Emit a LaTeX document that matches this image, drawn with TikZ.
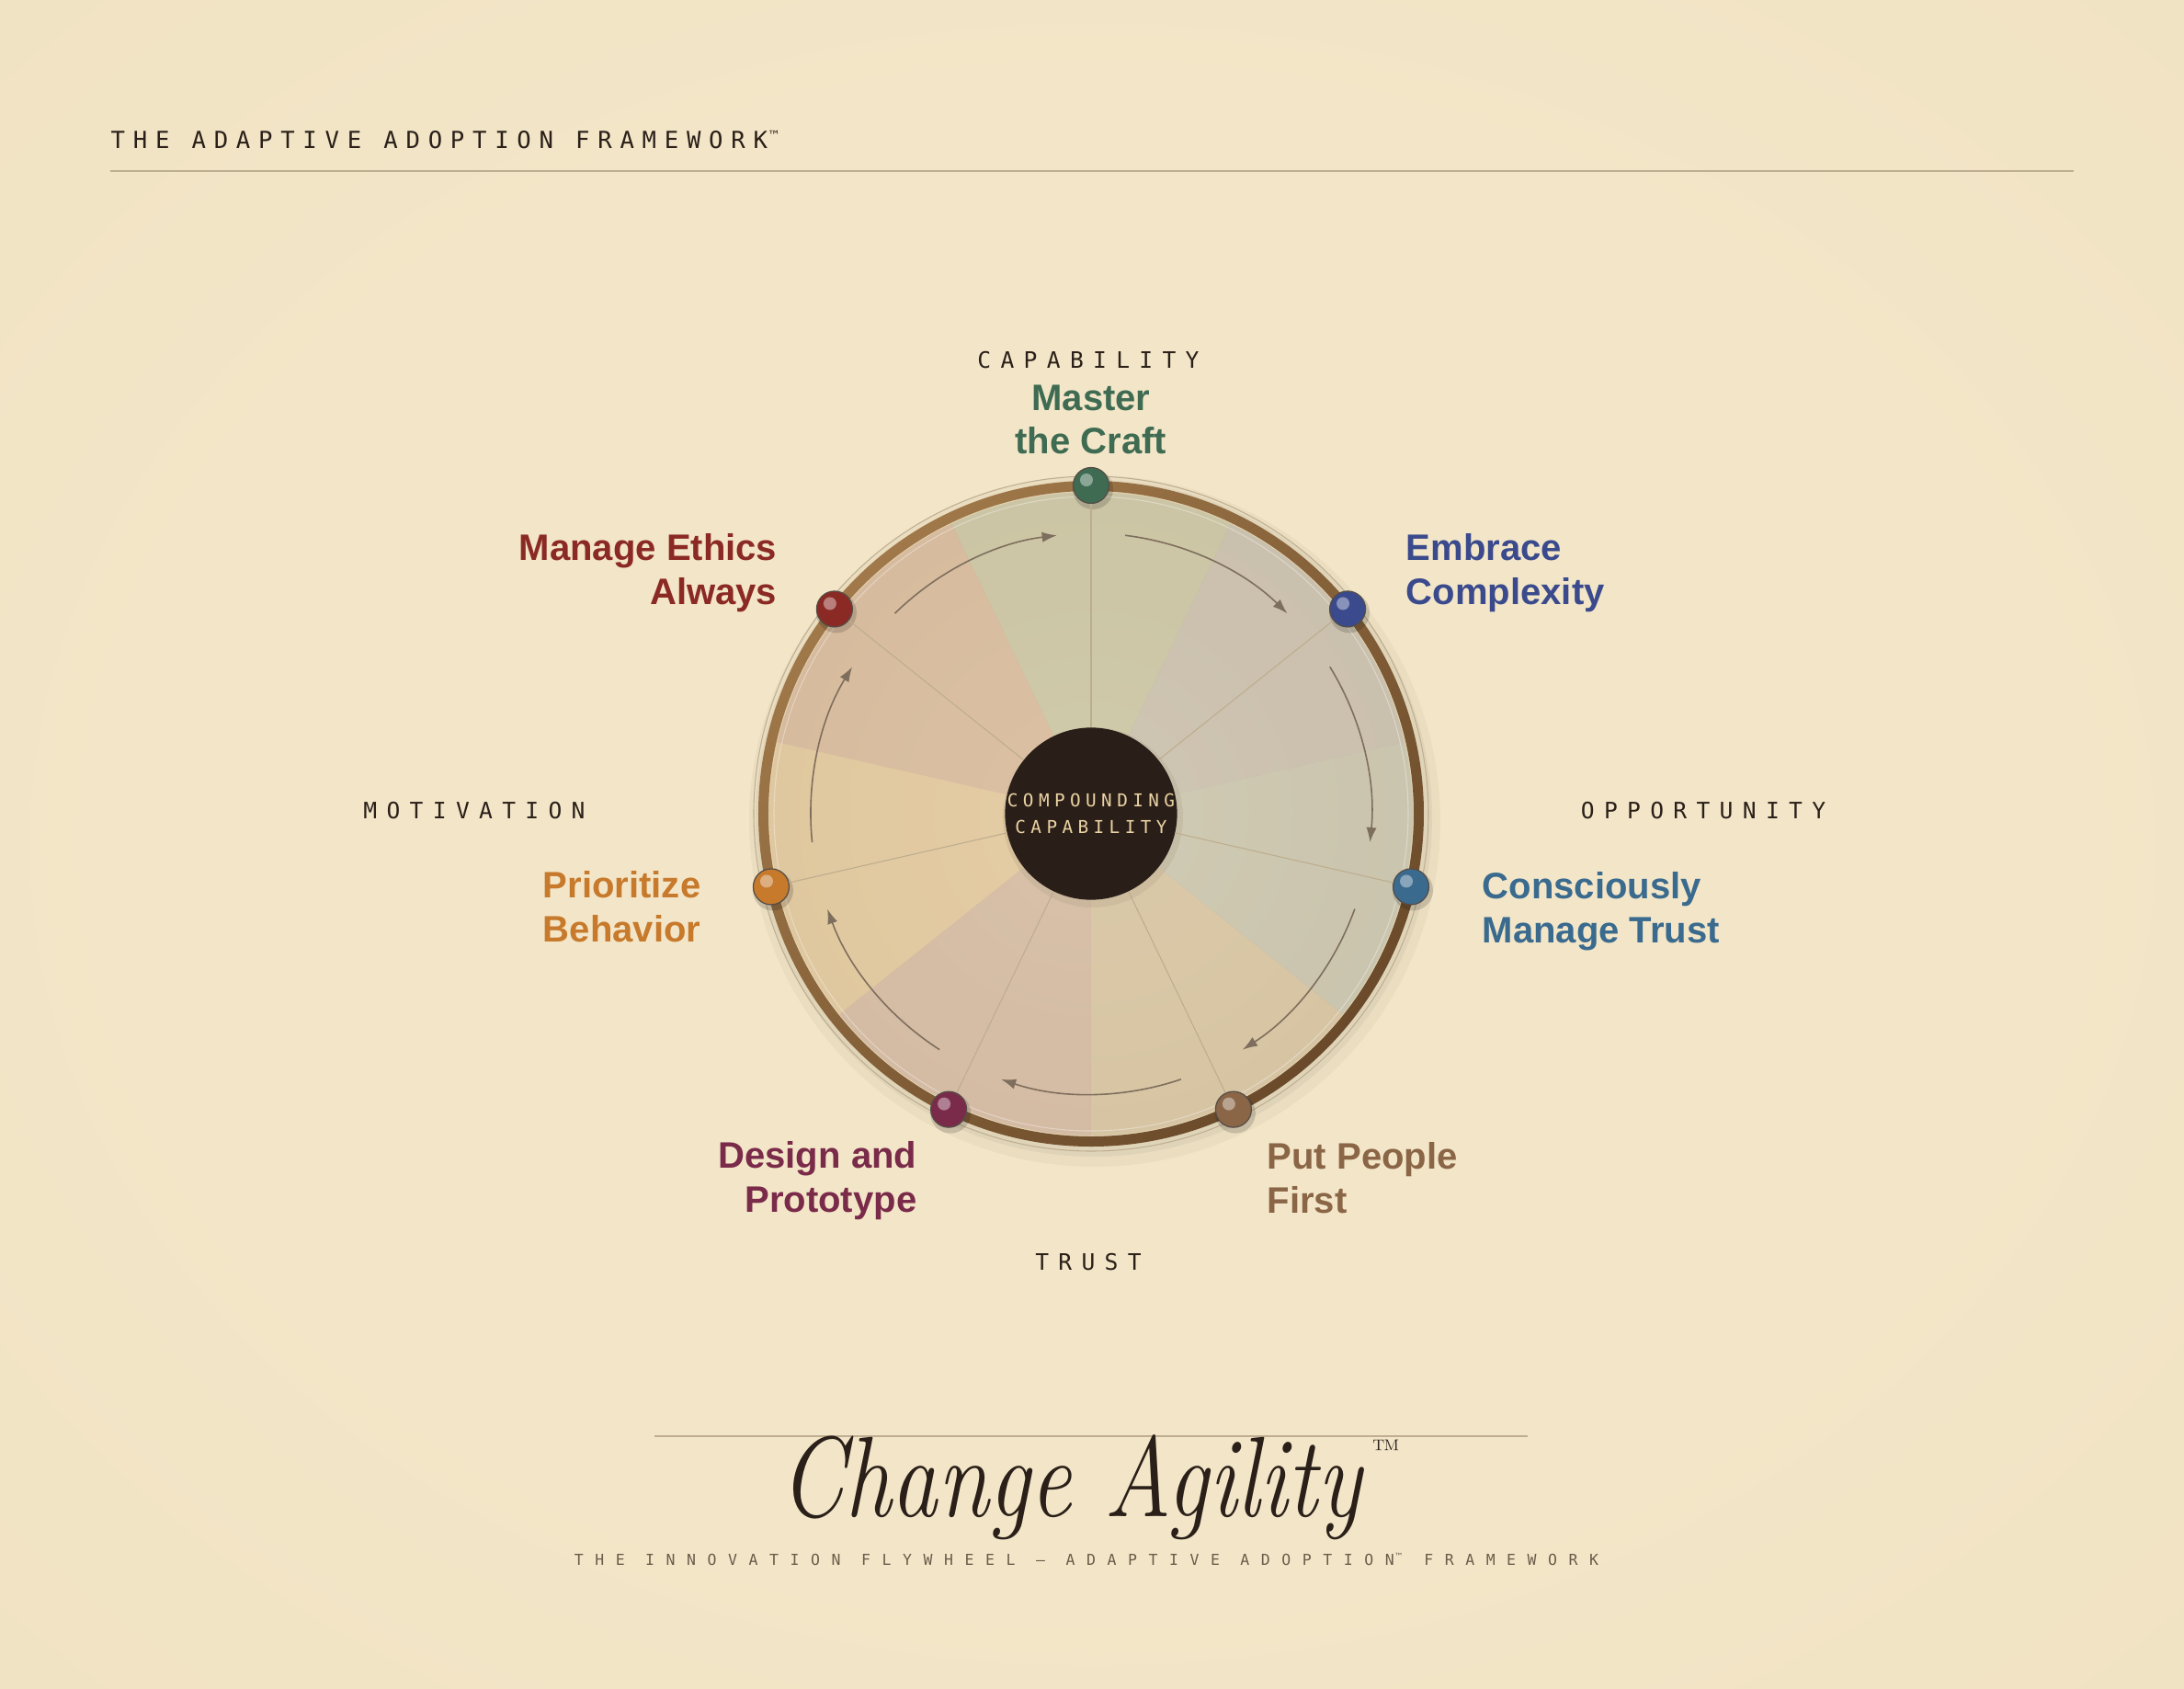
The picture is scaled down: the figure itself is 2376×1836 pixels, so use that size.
\documentclass[tikz,border=0pt]{standalone}
\usepackage{fontspec}
\usepackage{graphicx}
\setsansfont{Liberation Sans}
\newfontfamily\monoaxis[LetterSpace=42]{DejaVu Sans Mono}
\newfontfamily\monotitle[LetterSpace=34]{DejaVu Sans Mono}
\newfontfamily\monohub[LetterSpace=28]{DejaVu Sans Mono}
\newfontfamily\monosub[LetterSpace=76]{DejaVu Sans Mono}
\newfontfamily\symfont{DejaVu Sans}
\usetikzlibrary{arrows.meta}

\definecolor{bgin}{HTML}{F3E6C8}
\definecolor{bgout}{HTML}{EDDFBD}
\definecolor{inkdark}{HTML}{2A2019}
\definecolor{rulecol}{HTML}{BFAE91}
\definecolor{ringlight}{HTML}{A07849}
\definecolor{ringdark}{HTML}{6A4A2A}
\definecolor{diskin}{HTML}{EADCBB}
\definecolor{diskout}{HTML}{D6C4A2}
\definecolor{hubfill}{HTML}{2A1F18}
\definecolor{hubtext}{HTML}{EBD3A4}
\definecolor{spokecol}{HTML}{BDAD8E}
\definecolor{flowcol}{HTML}{7E6E5D}
\definecolor{subgray}{HTML}{6B5B4A}
\definecolor{craftgreen}{HTML}{3E6B52}
\definecolor{complexblue}{HTML}{3A4A8C}
\definecolor{trustteal}{HTML}{3A6A8E}
\definecolor{peoplebrown}{HTML}{8A6647}
\definecolor{designplum}{HTML}{7A2B4A}
\definecolor{behaviororange}{HTML}{C77A2C}
\definecolor{ethicsred}{HTML}{8B2A25}

\pgfdeclareradialshading{paperglow}{\pgfpoint{0bp}{0bp}}{color(0bp)=(bgin); color(22bp)=(bgin); color(50bp)=(bgout); color(75bp)=(bgout)}
\pgfdeclareradialshading{diskglow}{\pgfpoint{0bp}{0bp}}{color(0bp)=(diskin); color(25bp)=(diskin!70!diskout); color(50bp)=(diskout)}

\newcommand\tmk{\raisebox{2.6pt}{\symfont\fontsize{4}{4}\selectfont ™}}
\newcommand\tmsmall{\raisebox{1.6pt}{\symfont\fontsize{2.8}{3}\selectfont ™}}

\begin{document}
\begin{tikzpicture}[x=0.1mm, y=0.1mm,
  spoke/.style={draw=spokecol, line width=0.3pt},
  flowarc/.style={draw=flowcol, line width=0.45pt, -{Latex[length=4.6pt, width=3.2pt]}},
  dot/.style={circle, minimum size=3.9mm, inner sep=0pt, draw=inkdark!80, line width=0.35pt},
  hub/.style={circle, minimum size=18.4mm, inner sep=0pt, fill=hubfill, text=hubtext, align=center, font=\monohub\fontsize{5.5}{8.3}\selectfont},
  axislabel/.style={text=inkdark, font=\monoaxis\fontsize{7}{8}\selectfont, inner sep=0pt},
  steplabel/.style={inner sep=0pt, font=\sffamily\bfseries\fontsize{11.4}{13.5}\selectfont},
]

\useasboundingbox (-1187,-951) rectangle (1189,885);
\shade[shading=paperglow] (-1187,-951) rectangle (1189,885);

% header
\node[anchor=west, inner sep=0pt, text=inkdark, font=\monotitle\fontsize{7.3}{9}\selectfont] (title) at (-1067,733) {THE ADAPTIVE ADOPTION FRAMEWORK\tmk};
\draw[rulecol, line width=0.45pt] (-1067,699) -- (1069,699);

% wheel
\fill[black, opacity=0.035] (4,-8) circle[radius=376];
\fill[black, opacity=0.04] (3,-5) circle[radius=368];
\shade[shading=diskglow] (0,0) circle[radius=352];
\foreach \col [count=\k from 0] in {craftgreen,complexblue,trustteal,peoplebrown,designplum,behaviororange,ethicsred} {
  \pgfmathsetmacro\a{90-\k*360/7}
  \fill[\col, opacity=0.15] (0,0) -- (\a+25.714:350) arc[start angle=\a+25.714, end angle=\a-25.714, radius=350] -- cycle;
}
\shade[even odd rule, top color=ringlight, bottom color=ringdark, shading angle=45] (0,0) circle[radius=362] (0,0) circle[radius=351];
\draw[white, opacity=0.35, line width=0.3pt] (0,0) circle[radius=345];
\draw[rulecol, line width=0.3pt] (0,0) circle[radius=367];

% flow arrows
\foreach \k in {0,...,6} {
  \pgfmathsetmacro\a{90-\k*360/7}
  \draw[flowarc] (\a-7:305) arc[start angle=\a-7, end angle=\a-44.43, radius=305];
}

% hub and stations
\fill[diskout!80!black, opacity=0.25] (2,-4) circle[radius=98];
\node[hub] (hub) at (0,0) {COMPOUNDING\\CAPABILITY};
\foreach \col [count=\k from 0] in {craftgreen,complexblue,trustteal,peoplebrown,designplum,behaviororange,ethicsred} {
  \pgfmathsetmacro\a{90-\k*360/7}
  \fill[black, opacity=0.15] (\a:357) ++(2,-4) circle[radius=22];
  \node[dot, fill=\col] (d\k) at (\a:357) {};
  \fill[white, opacity=0.4] ([shift={(-5,6)}]d\k.center) circle[radius=7];
}
\foreach \k in {0,...,6}
  \draw[spoke] (hub) -- (d\k);

% axis labels
\node[axislabel] (axcap) at (-3,493) {CAPABILITY};
\node[axislabel] (axmot) at (-671,3) {MOTIVATION};
\node[axislabel] (axopp) at (666,3) {OPPORTUNITY};
\node[axislabel] (axtrust) at (-3,-488) {TRUST};

% step labels
\node[steplabel, text=craftgreen, align=center, anchor=north] (craft) at (0,467) {Master\\the Craft};
\node[steplabel, text=ethicsred, align=right, anchor=north east] (ethics) at (-341,305) {Manage Ethics\\Always};
\node[steplabel, text=complexblue, align=left, anchor=north west] (complex) at (342,305) {Embrace\\Complexity};
\node[steplabel, text=behaviororange, align=right, anchor=north east] (behavior) at (-424,-62) {Prioritize\\Behavior};
\node[steplabel, text=trustteal, align=left, anchor=north west] (trust) at (425,-63) {Consciously\\Manage Trust};
\node[steplabel, text=designplum, align=right, anchor=north east] (design) at (-189,-356) {Design and\\Prototype};
\node[steplabel, text=peoplebrown, align=left, anchor=north west] (people) at (191,-357) {Put People\\First};

% footer
\draw[rulecol, line width=0.4pt] (-475,-677) -- (475,-677);
\node[anchor=base, inner sep=0pt, text=inkdark] (brand) at (-22,-764) {\scalebox{0.81}[1]{\fontsize{35.4}{40}\selectfont\itshape Change Agility}};
\node[inner sep=0pt, text=inkdark] (brandtm) at (321,-691) {\fontsize{8}{8}\selectfont ™};
\node[inner sep=0pt, text=subgray, font=\monosub\fontsize{4.7}{6}\selectfont] (subtitle) at (-5,-811) {THE INNOVATION FLYWHEEL — ADAPTIVE ADOPTION\tmsmall\ FRAMEWORK};

\end{tikzpicture}
\end{document}
